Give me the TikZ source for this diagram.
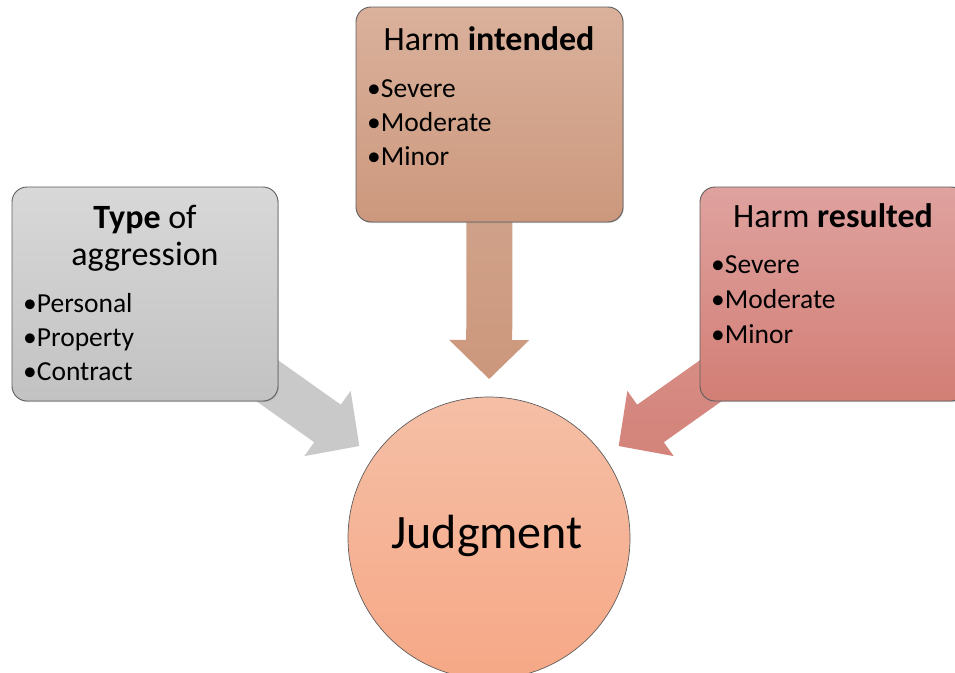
\documentclass[tikz,border=0pt]{standalone}
\usepackage{fontspec}
\setmainfont{Carlito}
\usetikzlibrary{calc,shadows}
\pgfdeclarelayer{background}
\pgfsetlayers{background,main}
\definecolor{boxline}{HTML}{5E5E5E}
\definecolor{grayT}{HTML}{D8D8D8}
\definecolor{grayB}{HTML}{C2C2C2}
\definecolor{grayA}{HTML}{C9C9C9}
\definecolor{tanT}{HTML}{DAB19C}
\definecolor{tanB}{HTML}{CC987D}
\definecolor{tanAT}{HTML}{D2A891}
\definecolor{tanAB}{HTML}{CC977C}
\definecolor{redT}{HTML}{DFA29F}
\definecolor{redB}{HTML}{D27E75}
\definecolor{redAT}{HTML}{DA948D}
\definecolor{redAB}{HTML}{D3837A}
\definecolor{judT}{HTML}{F5BFA6}
\definecolor{judB}{HTML}{F6A886}
\newcommand\blockarrow[4]{%
  \coordinate (#1-hb) at ($(#3)!39pt!(#2)$);
  \path[#4] ($(#2)!23pt!90:(#3)$) -- ($(#1-hb)!23pt!90:(#3)$) -- ($(#1-hb)!40pt!90:(#3)$)
    -- (#3) -- ($(#1-hb)!40pt!-90:(#3)$) -- ($(#1-hb)!23pt!-90:(#3)$) -- ($(#2)!23pt!-90:(#3)$) -- cycle;
}
\begin{document}
\begin{tikzpicture}[x=1pt,y=-1pt,
  box/.style={rectangle, rounded corners=15pt, draw=boxline, line width=0.9pt,
    minimum width=266pt, minimum height=214pt, inner sep=0pt,
    drop shadow={shadow xshift=0.8pt, shadow yshift=-1pt, opacity=0.35}},
  head/.style={font=\fontsize{34}{40}\selectfont, inner sep=0pt, anchor=base},
  item/.style={font=\fontsize{27.5}{34}\selectfont, inner sep=0pt, anchor=base west},
]
\useasboundingbox (0,0) rectangle (955,672);
\clip (0,0) rectangle (955,672);

% boxes
\node[box, top color=grayT, bottom color=grayB] (left) at (145,294) {};
\node[box, top color=tanT, bottom color=tanB, minimum width=267pt, minimum height=215pt] (top) at (489.5,114.5) {};
\node[box, top color=redT, bottom color=redB] (right) at (833,294) {};
\node[circle, draw=boxline, line width=0.7pt, minimum size=282pt, inner sep=0pt,
  top color=judT, bottom color=judB] (judg) at (489,538) {};

% texts
\node[head] (lh1) at (145,228) {\textbf{Type} of};
\node[head] (lh2) at (145,265) {aggression};
\node[item] (l1) at (23,312) {\textbullet Personal};
\node[item] (l2) at (23,346) {\textbullet Property};
\node[item] (l3) at (23,380) {\textbullet Contract};

\node[head] (th) at (489,50) {Harm \textbf{intended}};
\node[item] (t1) at (367,97) {\textbullet Severe};
\node[item] (t2) at (367,131) {\textbullet Moderate};
\node[item] (t3) at (367,165) {\textbullet Minor};

\node[head] (rh) at (833,227) {Harm \textbf{resulted}};
\node[item] (r1) at (711,273) {\textbullet Severe};
\node[item] (r2) at (711,308) {\textbullet Moderate};
\node[item] (r3) at (711,343) {\textbullet Minor};

\node[font=\fontsize{48}{54}\selectfont, inner sep=0pt, anchor=base] (jt) at (487,548) {Judgment};

% arrow tips
\coordinate (tipL) at ($(judg.center)!159pt!(left.center)$);
\coordinate (tipT) at ($(judg.center)!159pt!(top.center)$);
\coordinate (tipR) at ($(judg.center)!159pt!(right.center)$);

\begin{pgfonlayer}{background}
  \blockarrow{aL}{left.center}{tipL}{fill=grayA}
  \blockarrow{aT}{top.center}{tipT}{top color=tanAT, bottom color=tanAB}
  \blockarrow{aR}{right.center}{tipR}{top color=redAT, bottom color=redAB}
\end{pgfonlayer}
\end{tikzpicture}
\end{document}
